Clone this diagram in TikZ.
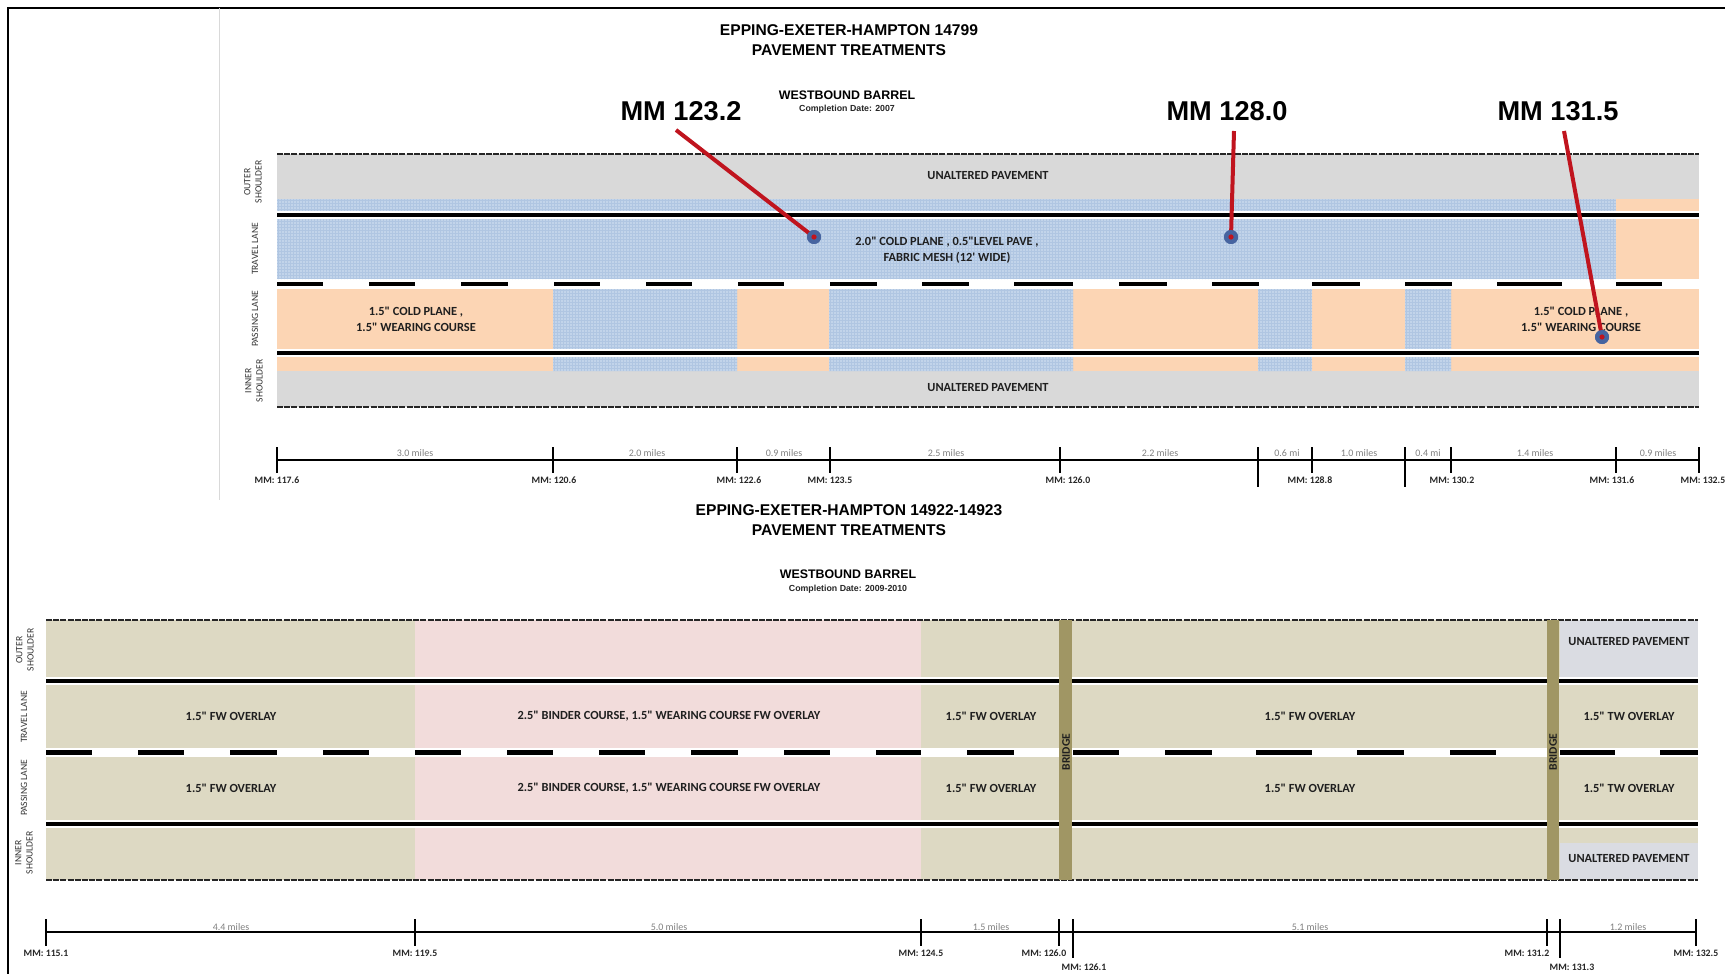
\documentclass[tikz,border=0pt]{standalone}
\usepackage{fontspec}
\setmainfont{Carlito}[Ligatures=TeXOff]
\newfontfamily\arialf{Liberation Sans}
\newcommand{\inq}{"}
\newcommand{\apq}{'}
\definecolor{greyP}{RGB}{217,217,217}
\definecolor{blueP}{RGB}{194,212,234}
\definecolor{blueG}{RGB}{176,198,226}
\definecolor{orangeP}{RGB}{252,213,180}
\definecolor{khakiP}{RGB}{221,217,195}
\definecolor{pinkP}{RGB}{242,220,219}
\definecolor{bridgeP}{RGB}{160,150,100}
\definecolor{greyB}{RGB}{218,220,226}
\definecolor{redL}{RGB}{192,20,30}
\definecolor{dotB}{RGB}{70,100,160}
\begin{document}
\begin{tikzpicture}[x=0.5pt,y=-0.5pt,
  lbl/.style={font=\bfseries\fontsize{6.2}{8}\selectfont, text=black!88, inner sep=0pt, align=center},
  side/.style={font=\fontsize{4.8}{5.6}\selectfont, text=black!80, inner sep=0pt, align=center, rotate=90},
  mmbig/.style={font=\arialf\bfseries\fontsize{13.6}{16}\selectfont, inner sep=0pt},
  ttl/.style={font=\arialf\bfseries\fontsize{7.8}{10}\selectfont, inner sep=0pt, align=center},
  wb/.style={font=\arialf\bfseries\fontsize{6.2}{7}\selectfont, inner sep=0pt},
  cd/.style={font=\arialf\bfseries\fontsize{4.4}{5}\selectfont, text=black!85, inner sep=0pt},
  mml/.style={font=\bfseries\fontsize{4.9}{5.5}\selectfont, text=black!85, inner sep=0pt},
  mil/.style={font=\fontsize{5}{6}\selectfont, text=black!50, inner sep=0pt},
  roadedge/.style={line width=1.2pt, black!85, dash pattern=on 3pt off 0.6pt},
  laneline/.style={line width=2pt, black},
  laneback/.style={line width=3.6pt, white},
  dashseg/.style={line width=2.2pt, black},
  axisline/.style={line width=1pt, black},
  tickline/.style={line width=1.3pt, black},
  redline/.style={line width=2pt, redL},
  dotout/.style={circle, fill=dotB, minimum size=7pt, inner sep=0pt},
  dotin/.style={circle, fill=redL, minimum size=2.6pt, inner sep=0pt},
  bridgebox/.style={fill=bridgeP}
]
\useasboundingbox (0,0) rectangle (1725,974);
% frame
\draw[line width=1.3pt] (8,974) -- (8,8) -- (1725,8);
\draw[black!15, line width=0.5pt] (219,8) -- (219,500);

% ================= TOP SECTION =================
\node[ttl] (t1) at (849,40) {EPPING-EXETER-HAMPTON 14799\\PAVEMENT TREATMENTS};
\node[wb] (wb1) at (847,95) {WESTBOUND BARREL};
\node[cd] (cd1) at (847,109) {Completion Date: 2007};

% shoulders
\fill[greyP] (277,154) rectangle (1699,199);
\fill[greyP] (277,371) rectangle (1699,407);
% travel lane
\fill[blueP] (277,199) rectangle (1616,279);
\fill[orangeP] (1616,199) rectangle (1699,279);
% passing lane
\foreach \a/\b/\c in {277/553/orangeP, 553/737/blueP, 737/829/orangeP, 829/1073/blueP, 1073/1258/orangeP, 1258/1312/blueP, 1312/1405/orangeP, 1405/1451/blueP, 1451/1699/orangeP}
  \fill[\c] (\a,289) rectangle (\b,371);
% grid texture on blue areas
\begin{scope}
  \clip (277,199) rectangle (1616,279)
        (553,289) rectangle (737,371)
        (829,289) rectangle (1073,371)
        (1258,289) rectangle (1312,371)
        (1405,289) rectangle (1451,371);
  \foreach \x in {278,281,...,1616} \draw[blueG, line width=0.25pt] (\x,199) -- (\x,371);
  \foreach \y in {200,203,...,371} \draw[blueG, line width=0.25pt] (277,\y) -- (1616,\y);
\end{scope}
% lane lines
\draw[laneback] (277,215) -- (1699,215);
\draw[laneline] (277,215) -- (1699,215);
\draw[laneback] (277,353) -- (1699,353);
\draw[laneline] (277,353) -- (1699,353);
\foreach \a/\b in {277/323, 369/415, 461/508, 554/600, 646/692, 738/784, 830/877, 922/969, 1014/1073, 1119/1167, 1212/1259, 1312/1360, 1405/1452, 1497/1562, 1616/1662}
  \draw[dashseg] (\a,284) -- (\b,284);
\draw[roadedge] (277,154) -- (1699,154);
\draw[roadedge] (277,407) -- (1699,407);

% texts
\node[lbl] (up1) at (988,176) {UNALTERED PAVEMENT};
\node[lbl] (up2) at (988,388) {UNALTERED PAVEMENT};
\node[lbl] (tl1) at (947,250) {2.0\inq{} COLD PLANE , 0.5\inq{}LEVEL PAVE ,\\FABRIC MESH (12\apq{} WIDE)};
\node[lbl] (pl1) at (416,319) {1.5\inq{} COLD PLANE ,\\1.5\inq{} WEARING COURSE};
\node[lbl] (pl2) at (1581,319) {1.5\inq{} COLD PLANE ,\\1.5\inq{} WEARING COURSE};
\node[side] (s1) at (253,182) {OUTER\\SHOULDER};
\node[side] (s2) at (255,249) {TRAVEL LANE};
\node[side] (s3) at (255,319) {PASSING LANE};
\node[side] (s4) at (254,381) {INNER\\SHOULDER};

% axis top
\draw[axisline] (277,460) -- (1699,460);
\foreach \x in {277,553,737,830,1060,1312,1451,1616,1699}
  \draw[tickline] (\x,447) -- (\x,473);
\foreach \x in {1258,1405}
  \draw[tickline] (\x,447) -- (\x,487);
\foreach \x/\t [count=\i] in {277/117.6, 554/120.6, 739/122.6, 830/123.5, 1068/126.0, 1310/128.8, 1452/130.2, 1612/131.6, 1703/132.5}
  \node[mml] (tmm\i) at (\x,480) {MM: \t};
\foreach \x/\t [count=\i] in {415/3.0 miles, 647/2.0 miles, 784/0.9 miles, 946/2.5 miles, 1160/2.2 miles, 1287/0.6 mi, 1359/1.0 miles, 1428/0.4 mi, 1535/1.4 miles, 1658/0.9 miles}
  \node[mil] (tmi\i) at (\x,453) {\t};

% annotations
\node[mmbig] (mmA) at (681,111) {MM 123.2};
\node[mmbig] (mmB) at (1227,111) {MM 128.0};
\node[mmbig] (mmC) at (1558,111) {MM 131.5};
\coordinate (mmAs) at (676,130);
\coordinate (mmBs) at (1234,131);
\coordinate (mmCs) at (1564,131);
\node[dotout] (dA) at (814,237) {};
\node[dotout] (dB) at (1231,237) {};
\node[dotout] (dC) at (1602,337) {};
\draw[redline] (mmAs) -- (dA.center);
\draw[redline] (mmBs) -- (dB.center);
\draw[redline] (mmCs) -- (dC.center);
\node[dotout] (dA2) at (814,237) {};
\node[dotout] (dB2) at (1231,237) {};
\node[dotout] (dC2) at (1602,337) {};
\node[dotin] (iA) at (814,237) {};
\node[dotin] (iB) at (1231,237) {};
\node[dotin] (iC) at (1602,337) {};

% ================= BOTTOM SECTION =================
\node[ttl] (t2) at (849,520) {EPPING-EXETER-HAMPTON 14922-14923\\PAVEMENT TREATMENTS};
\node[wb] (wb2) at (848,574) {WESTBOUND BARREL};
\node[cd] (cd2) at (848,589) {Completion Date: 2009-2010};

\fill[khakiP] (46,620) rectangle (1698,880);
\fill[pinkP] (415,620) rectangle (921,880);
\fill[greyB] (1560,620) rectangle (1698,679);
\fill[greyB] (1560,843) rectangle (1698,880);
\fill[white] (46,748) rectangle (1698,757);
\draw[laneback] (46,681) -- (1698,681);
\draw[laneline] (46,681) -- (1698,681);
\draw[laneback] (46,824) -- (1698,824);
\draw[laneline] (46,824) -- (1698,824);
\foreach \a/\b in {46/92, 138/184, 230/277, 323/369, 415/461, 507/553, 599/645, 691/738, 784/830, 876/921, 967/1014, 1073/1119, 1165/1212, 1256/1312, 1357/1404, 1450/1496, 1560/1615, 1660/1698}
  \draw[dashseg] (\a,752.5) -- (\b,752.5);
\draw[roadedge] (46,620) -- (1698,620);
\draw[roadedge] (46,880) -- (1698,880);
\fill[bridgebox] (1059,620) rectangle (1072,880);
\fill[bridgebox] (1547,620) rectangle (1559,880);
\node[lbl, rotate=90, font=\bfseries\fontsize{5.8}{6}\selectfont] (br1) at (1066,752) {BRIDGE};
\node[lbl, rotate=90, font=\bfseries\fontsize{5.8}{6}\selectfont] (br2) at (1553,752) {BRIDGE};

\node[lbl] (b1) at (231,716) {1.5\inq{} FW OVERLAY};
\node[lbl] (b2) at (231,788) {1.5\inq{} FW OVERLAY};
\node[lbl] (b3) at (669,716) {2.5\inq{} BINDER COURSE, 1.5\inq{} WEARING COURSE FW OVERLAY};
\node[lbl] (b4) at (669,788) {2.5\inq{} BINDER COURSE, 1.5\inq{} WEARING COURSE FW OVERLAY};
\node[lbl] (b5) at (991,716) {1.5\inq{} FW OVERLAY};
\node[lbl] (b6) at (991,788) {1.5\inq{} FW OVERLAY};
\node[lbl] (b7) at (1310,716) {1.5\inq{} FW OVERLAY};
\node[lbl] (b8) at (1310,788) {1.5\inq{} FW OVERLAY};
\node[lbl] (b9) at (1629,716) {1.5\inq{} TW OVERLAY};
\node[lbl] (b10) at (1629,788) {1.5\inq{} TW OVERLAY};
\node[lbl] (b11) at (1629,642) {UNALTERED PAVEMENT};
\node[lbl] (b12) at (1629,859) {UNALTERED PAVEMENT};
\node[side] (s5) at (25,650) {OUTER\\SHOULDER};
\node[side] (s6) at (24,717) {TRAVEL LANE};
\node[side] (s7) at (24,788) {PASSING LANE};
\node[side] (s8) at (24,853) {INNER\\SHOULDER};

% axis bottom
\draw[axisline] (46,932) -- (1696,932);
\foreach \x in {46,415,921,1059,1547,1696}
  \draw[tickline] (\x,919) -- (\x,946);
\foreach \x in {1073,1560}
  \draw[tickline] (\x,919) -- (\x,958);
\foreach \x/\t [count=\i] in {46/115.1, 415/119.5, 921/124.5, 1044/126.0, 1527/131.2, 1696/132.5}
  \node[mml] (bmm\i) at (\x,953) {MM: \t};
\node[mml] (bmm7) at (1084,967) {MM: 126.1};
\node[mml] (bmm8) at (1572,967) {MM: 131.3};
\foreach \x/\t [count=\i] in {231/4.4 miles, 669/5.0 miles, 991/1.5 miles, 1310/5.1 miles, 1628/1.2 miles}
  \node[mil] (bmi\i) at (\x,927) {\t};
\end{tikzpicture}
\end{document}
